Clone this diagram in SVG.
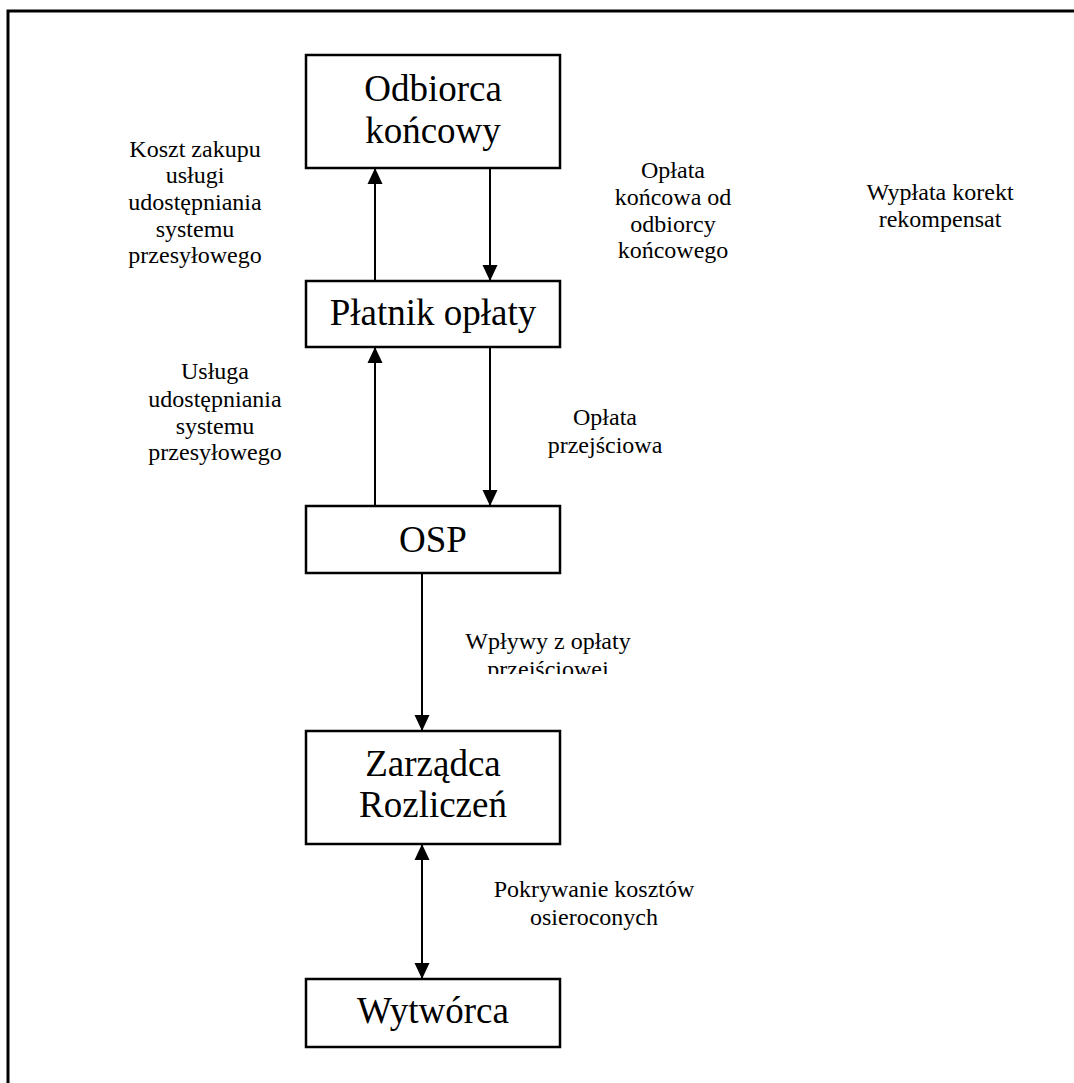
<svg xmlns="http://www.w3.org/2000/svg" width="1074" height="1083" viewBox="0 0 1074 1083">
  <style>
    .box { fill: #fff; stroke: #000; stroke-width: 2.5; }
    .node { font-family: "Liberation Serif", "Times New Roman", serif; font-size: 37px; text-anchor: middle; fill: #000; }
    .lbl { font-family: "Liberation Serif", "Times New Roman", serif; font-size: 24px; text-anchor: middle; fill: #000; }
    .edge { stroke: #000; stroke-width: 2; fill: none; }
  </style>
  <defs>
    <marker id="head" markerUnits="userSpaceOnUse" markerWidth="16" markerHeight="16" refX="16" refY="8" orient="auto-start-reverse" viewBox="0 0 16 16">
      <path d="M0,0.5 L16,8 L0,15.5 Z" fill="#000"/>
    </marker>
    <clipPath id="cutLabel">
      <rect x="400" y="600" width="300" height="74"/>
    </clipPath>
  </defs>

  <rect width="1074" height="1083" fill="#fff"/>

  <!-- page frame -->
  <path d="M8,1083 V11 H1074" fill="none" stroke="#000" stroke-width="3"/>

  <!-- connectors -->
  <g id="connectors">
    <line class="edge" x1="375" y1="281" x2="375" y2="168" marker-end="url(#head)"/>
    <line class="edge" x1="490" y1="168" x2="490" y2="281" marker-end="url(#head)"/>
    <line class="edge" x1="375" y1="506" x2="375" y2="347" marker-end="url(#head)"/>
    <line class="edge" x1="490" y1="347" x2="490" y2="506" marker-end="url(#head)"/>
    <line class="edge" x1="422" y1="573" x2="422" y2="731" marker-end="url(#head)"/>
    <line class="edge" x1="422" y1="844" x2="422" y2="979" marker-start="url(#head)" marker-end="url(#head)"/>
  </g>

  <!-- nodes -->
  <g id="odbiorca">
    <rect class="box" x="306" y="55" width="254" height="113"/>
    <text class="node" x="433" y="101">Odbiorca</text>
    <text class="node" x="433" y="143">końcowy</text>
  </g>
  <g id="platnik">
    <rect class="box" x="306" y="281" width="254" height="66"/>
    <text class="node" x="433" y="325">Płatnik opłaty</text>
  </g>
  <g id="osp">
    <rect class="box" x="306" y="506" width="254" height="67"/>
    <text class="node" x="433" y="552">OSP</text>
  </g>
  <g id="zarzadca">
    <rect class="box" x="306" y="731" width="254" height="113"/>
    <text class="node" x="433" y="776">Zarządca</text>
    <text class="node" x="433" y="817">Rozliczeń</text>
  </g>
  <g id="wytworca">
    <rect class="box" x="306" y="979" width="254" height="68"/>
    <text class="node" x="433" y="1023">Wytwórca</text>
  </g>

  <!-- flow labels -->
  <g id="labels">
    <text class="lbl" x="195" y="157">Koszt zakupu</text>
    <text class="lbl" x="195" y="183">usługi</text>
    <text class="lbl" x="195" y="210">udostępniania</text>
    <text class="lbl" x="195" y="237">systemu</text>
    <text class="lbl" x="195" y="263">przesyłowego</text>

    <text class="lbl" x="673" y="178">Opłata</text>
    <text class="lbl" x="673" y="205">końcowa od</text>
    <text class="lbl" x="673" y="232">odbiorcy</text>
    <text class="lbl" x="673" y="258">końcowego</text>

    <text class="lbl" x="940" y="200">Wypłata korekt</text>
    <text class="lbl" x="940" y="227">rekompensat</text>

    <text class="lbl" x="215" y="379">Usługa</text>
    <text class="lbl" x="215" y="407">udostępniania</text>
    <text class="lbl" x="215" y="434">systemu</text>
    <text class="lbl" x="215" y="460">przesyłowego</text>

    <text class="lbl" x="605" y="425">Opłata</text>
    <text class="lbl" x="605" y="453">przejściowa</text>

    <g clip-path="url(#cutLabel)">
      <text class="lbl" x="548" y="649">Wpływy z opłaty</text>
      <text class="lbl" x="548" y="677">przejściowej</text>
    </g>

    <text class="lbl" x="594" y="897">Pokrywanie kosztów</text>
    <text class="lbl" x="594" y="925">osieroconych</text>
  </g>
</svg>
